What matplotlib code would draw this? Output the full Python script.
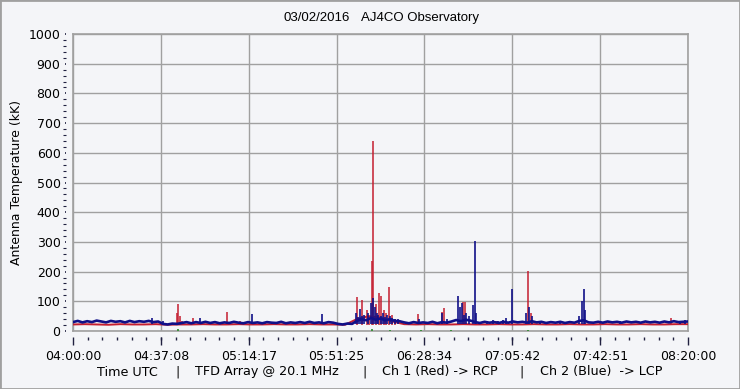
import numpy as np
import matplotlib
matplotlib.use("Agg")
import matplotlib.pyplot as plt
from matplotlib.patches import Rectangle

# minutes after 04:00:00 UTC
TIME_TICKS = [0, 37.14, 74.29, 111.43, 148.57, 185.71, 222.86, 260]
TIME_LABELS = ["04:00:00", "04:37:08", "05:14:17", "05:51:25",
               "06:28:34", "07:05:42", "07:42:51", "08:20:00"]

# Ch 2 (blue, LCP) background level, one value every 2 min
blue_t = np.arange(0, 261, 2)
blue_base = [30, 34, 29, 33, 30, 35, 32, 29, 34, 31, 33, 29, 34, 30, 33, 31, 34, 30, 32,
             24, 22, 25, 24,
             27, 30, 26, 30, 27, 31, 27, 30, 26, 29, 27, 31, 28, 26, 30, 27, 29, 26, 30, 28,
             27, 31, 26, 29, 27, 30, 27, 31, 27, 29, 26, 30, 28,
             24, 22, 25, 24,
             34, 40, 36, 44, 38, 42, 36, 40, 34, 33, 29,
             26, 30, 27, 29, 27, 31, 26, 30, 28,
             32, 37, 33, 38, 35, 30,
             27, 31, 28, 30, 27, 31, 28, 32, 29, 31, 28, 33, 29, 31, 27, 30, 28, 31, 27, 30, 28,
             34, 36, 29,
             28, 31, 28, 32, 29, 31, 28, 32, 29, 31, 28, 32, 29, 31, 28, 32, 29, 33, 30, 31, 32]

# Ch 1 (red, RCP) background level, one value every 5 min
red_t = np.arange(0, 261, 5)
red_base = [22, 23, 22, 21, 23, 22, 22, 23,
            21, 22, 22, 23, 22, 22, 23, 22, 22, 23, 22, 22, 23, 22, 22, 21,
            40, 50, 45, 32,
            23, 22, 23, 22, 22, 23, 22, 22, 23, 22, 22, 23, 22, 22, 23, 22, 22, 23,
            22, 22, 23, 22, 22, 23,
            23]

# bursts (minute, kK)
red_spike_t = [44.0, 44.4, 45.2, 46.1, 50.7, 65.1, 70.6, 81.2, 120.1, 122.2, 124.3,
               125.2, 126.6, 127.0, 128.1, 129.4, 130.2, 131.5, 132.3, 133.6, 134.9,
               136.2, 145.9, 156.0, 156.9, 164.9, 165.8, 179.3, 192.4, 193.7, 197.5,
               222.8, 252.9]
red_spike_v = [60, 91, 50, 35, 44, 64, 35, 30, 115, 104, 72,
               50, 235, 640, 90, 129, 118, 70, 60, 149, 55,
               40, 57, 65, 77, 97, 99, 35, 202, 60, 35,
               28, 43]

blue_spike_t = [33.4, 38.1, 53.7, 75.7, 105.3, 119.7, 120.5, 121.4, 122.2, 123.0, 124.6,
                126.0, 126.8, 127.7, 128.4, 129.0, 130.0, 131.1, 132.0, 132.8, 134.0,
                134.9, 136.3, 137.6, 146.3, 156.0, 158.1, 162.8, 163.6, 164.5, 165.3,
                166.2, 167.5, 169.1, 169.8, 170.4, 175.1, 177.6, 179.7, 181.8, 183.1,
                185.6, 191.5, 192.8, 194.1, 197.5, 205.9, 213.9, 215.2, 215.9, 216.5,
                231.3, 256.7, 258.8]
blue_spike_v = [43, 32, 43, 57, 57, 60, 48, 75, 50, 55, 62,
                93, 110, 80, 62, 55, 50, 60, 48, 55, 50,
                45, 42, 40, 40, 62, 40, 118, 80, 95, 55,
                60, 50, 88, 303, 60, 32, 38, 35, 38, 45,
                141, 60, 82, 50, 35, 32, 50, 100, 141, 70,
                32, 35, 38]

green_t = [44.5, 126.5, 134.0, 147.0, 160.0, 192.5]
green_v = [6, 8, 5, 3, 3, 5]

BG = "#f4f5f8"
GRID = "#a0a0a0"
RED = "#c41e30"
BLUE = "#101088"

plt.rcParams["font.family"] = "DejaVu Sans"
plt.rcParams["font.size"] = 9

fig = plt.figure(figsize=(7.4, 3.89), dpi=100, facecolor=BG)
ax = fig.add_axes([73 / 740, 1 - 331 / 389, 615 / 740, 297 / 389])
ax.set_facecolor(BG)

ax.plot(red_t, red_base, color=RED, lw=1.4, zorder=3)
ax.vlines(red_spike_t, 20, red_spike_v, color=RED, lw=1.1, zorder=3)
ax.plot(blue_t, blue_base, color=BLUE, lw=1.9, zorder=4)
ax.vlines(blue_spike_t, 24, blue_spike_v, color=BLUE, lw=1.2, zorder=4)
ax.vlines(green_t, 0, green_v, color="#2a8a2a", lw=1.2, zorder=5)

ax.set_xlim(0, 260)
ax.set_ylim(0, 1000)

ax.set_xticks(TIME_TICKS)
ax.set_xticklabels(TIME_LABELS)
ax.set_xticks(np.linspace(0, 260, 43), minor=True)
ax.set_yticks(range(0, 1001, 100))
ax.set_yticks(range(0, 1001, 20), minor=True)

for s in ax.spines.values():
    s.set_visible(False)
ax.spines["bottom"].set_position(("outward", 4))
ax.spines["left"].set_position(("outward", 5))

ax.tick_params(axis="x", which="major", length=5.8, width=1, color="#202040",
               pad=4, labelsize=9)
ax.tick_params(axis="x", which="minor", length=2.2, width=1, color="#202040")
ax.tick_params(axis="y", which="major", length=1, width=1.2, color="#202040",
               pad=3, labelsize=9)
ax.tick_params(axis="y", which="minor", length=2.2, width=0.8, color="#202040")

ax.grid(True, which="major", color=GRID, lw=1)
for v in (0, 1000):
    ax.axhline(v, color=GRID, lw=1.2, clip_on=False, zorder=1)
for v in (0, 260):
    ax.axvline(v, color=GRID, lw=1.2, clip_on=False, zorder=1)

ax.set_ylabel("Antenna Temperature (kK)", fontsize=9, labelpad=4)

fig.text(283 / 740, 1 - 18 / 389, "03/02/2016", ha="left", va="center",
         fontsize=9.5, family="Liberation Sans")
fig.text(361 / 740, 1 - 18 / 389, "AJ4CO Observatory", ha="left", va="center",
         fontsize=9.5, family="Liberation Sans")

caption = [(97, "Time UTC"), (175, "|"), (195, "TFD Array @ 20.1 MHz"), (362, "|"),
           (382, "Ch 1 (Red) -> RCP"), (519, "|"), (540, "Ch 2 (Blue)  -> LCP")]
for x, s in caption:
    fig.text(x / 740, 1 - 372 / 389, s, ha="left", va="center", fontsize=9.2)

fig.patches.append(Rectangle((0, 0), 1, 1, transform=fig.transFigure,
                             fill=False, edgecolor="#a0a0a0", lw=2))

fig.savefig("out.png", dpi=100, facecolor=BG)
